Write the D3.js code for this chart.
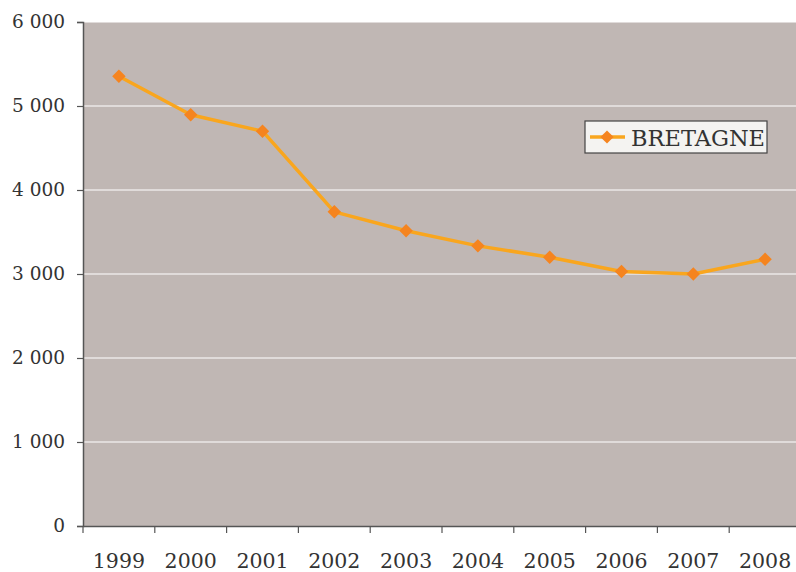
<!DOCTYPE html>
<html><head><meta charset="utf-8">
<script src="https://cdn.jsdelivr.net/npm/d3@7"></script>
<style>body{margin:0;background:#fff}</style>
</head><body>
<svg id="c" width="796" height="572"></svg>
<script>
const years = ["1999","2000","2001","2002","2003","2004","2005","2006","2007","2008"];
const bretagne = [5355, 4895, 4700, 3740, 3515, 3335, 3200, 3030, 3000, 3175];
const yTicks = [0, 1000, 2000, 3000, 4000, 5000, 6000];
const seriesName = "BRETAGNE";

const svg = d3.select("#c");
const L = 83, R = 801, T = 22, B = 526;
const x = d3.scaleBand().domain(years).range([L, R]);
const y = d3.scaleLinear().domain([0, 6000]).range([B, T]);
const fmt = v => v === 0 ? "0" : d3.format(",")(v).replace(/,/g, " ");
const font = "'DejaVu Serif', 'Liberation Serif', serif";

svg.append("rect").attr("x", L).attr("y", T).attr("width", R - L).attr("height", B - T).attr("fill", "#C0B7B4");

svg.append("g").selectAll("line").data(yTicks.filter(d => d > 0)).join("line")
  .attr("x1", L).attr("x2", R).attr("y1", d => y(d)).attr("y2", d => y(d))
  .attr("stroke", "#ffffff").attr("stroke-width", 1.2);

// y axis
const ya = svg.append("g").attr("transform", `translate(${L},0)`)
  .call(d3.axisLeft(y).tickValues(yTicks).tickFormat(fmt).tickSize(6).tickPadding(12));
ya.select(".domain").attr("stroke", "#555").attr("stroke-width", 1.5);
ya.selectAll(".tick line").attr("stroke", "#555").attr("stroke-width", 1.2);
ya.selectAll("text").attr("font-family", font).attr("font-size", 18.5).attr("fill", "#333");

// x axis
const xa = svg.append("g").attr("transform", `translate(0,${B})`)
  .call(d3.axisBottom(x).tickSize(0));
xa.select(".domain").attr("stroke", "#555").attr("stroke-width", 1.5);
xa.selectAll("text").attr("y", 42).attr("dy", 0)
  .attr("font-family", font).attr("font-size", 20.5).attr("fill", "#333");
svg.append("g").selectAll("line").data(years).join("line")
  .attr("x1", d => x(d)).attr("x2", d => x(d)).attr("y1", B).attr("y2", B + 7)
  .attr("stroke", "#555").attr("stroke-width", 1.2);

const cx = d => x(d) + x.bandwidth() / 2;
svg.append("path").datum(bretagne)
  .attr("d", d3.line().x((d, i) => cx(years[i])).y(d => y(d)))
  .attr("fill", "none").attr("stroke", "#F9A61E").attr("stroke-width", 3.5).attr("stroke-linejoin", "round");

svg.append("g").selectAll("path").data(bretagne).join("path")
  .attr("d", d3.symbol(d3.symbolDiamond2, 115))
  .attr("transform", (d, i) => `translate(${cx(years[i])},${y(d)})`)
  .attr("fill", "#F5841F");

// legend
const lg = svg.append("g").attr("transform", "translate(585,121)");
lg.append("rect").attr("width", 182).attr("height", 32).attr("fill", "#F4F3F1").attr("stroke", "#444").attr("stroke-width", 1.2);
lg.append("line").attr("x1", 5).attr("x2", 40).attr("y1", 16).attr("y2", 16).attr("stroke", "#F9A61E").attr("stroke-width", 3.5);
lg.append("path").attr("d", d3.symbol(d3.symbolDiamond2, 110)).attr("transform", "translate(22,16)").attr("fill", "#F5841F");
lg.append("text").attr("x", 46).attr("y", 25).text(seriesName)
  .attr("font-family", font).attr("font-size", 22.5).attr("fill", "#333");
</script>
</body></html>
